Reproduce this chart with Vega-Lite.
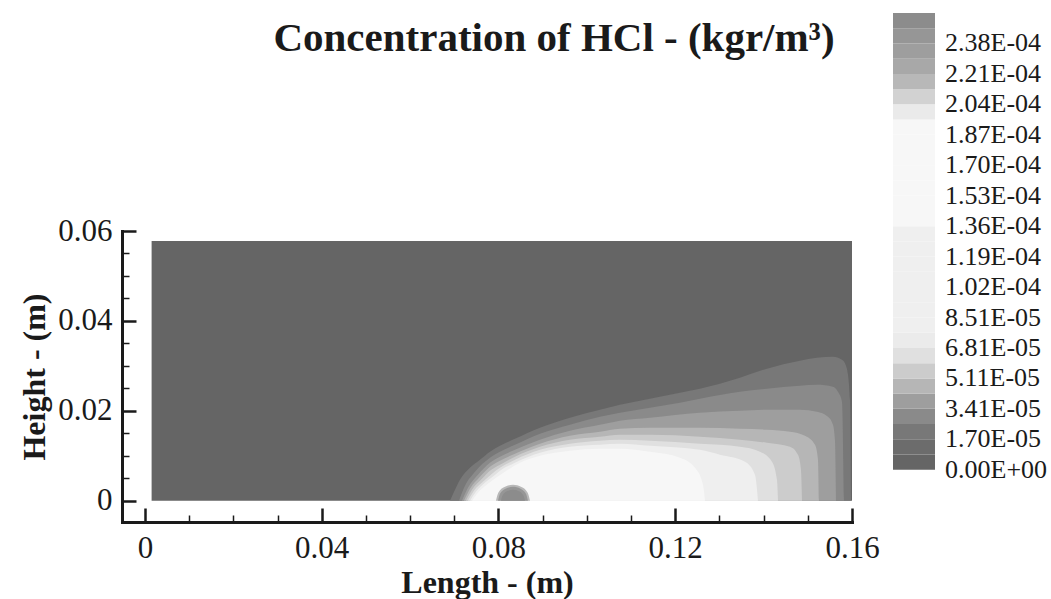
{
  "$schema": "https://vega.github.io/schema/vega-lite/v6.json",
  "width": 730,
  "height": 291,
  "autosize": "none",
  "padding": {"left": 122, "top": 231, "right": 199, "bottom": 77},
  "background": "white",
  "title": {
    "text": "Concentration of HCl - (kgr/m³)",
    "font": "Liberation Serif",
    "fontSize": 41,
    "fontWeight": "bold",
    "color": "#1a1a1a",
    "anchor": "middle",
    "dx": 67,
    "offset": -47
  },
  "data": {
    "values": [
      {"lev": 4.3e-6, "x": 0.0015, "y": 0.0578},
      {"lev": 4.3e-6, "x": 0.16, "y": 0.0578},

      {"lev": 2.13e-5, "x": 0.06902, "y": 0},
      {"lev": 2.13e-5, "x": 0.07015, "y": 0.00245},
      {"lev": 2.13e-5, "x": 0.07128, "y": 0.00468},
      {"lev": 2.13e-5, "x": 0.07355, "y": 0.00735},
      {"lev": 2.13e-5, "x": 0.07581, "y": 0.00913},
      {"lev": 2.13e-5, "x": 0.07807, "y": 0.01091},
      {"lev": 2.13e-5, "x": 0.08034, "y": 0.01224},
      {"lev": 2.13e-5, "x": 0.08373, "y": 0.0138},
      {"lev": 2.13e-5, "x": 0.08939, "y": 0.01625},
      {"lev": 2.13e-5, "x": 0.09618, "y": 0.01848},
      {"lev": 2.13e-5, "x": 0.10296, "y": 0.02026},
      {"lev": 2.13e-5, "x": 0.10749, "y": 0.02137},
      {"lev": 2.13e-5, "x": 0.11428, "y": 0.02271},
      {"lev": 2.13e-5, "x": 0.12107, "y": 0.02404},
      {"lev": 2.13e-5, "x": 0.12559, "y": 0.02493},
      {"lev": 2.13e-5, "x": 0.13465, "y": 0.02738},
      {"lev": 2.13e-5, "x": 0.14076, "y": 0.02939},
      {"lev": 2.13e-5, "x": 0.14822, "y": 0.03117},
      {"lev": 2.13e-5, "x": 0.15207, "y": 0.03183},
      {"lev": 2.13e-5, "x": 0.15569, "y": 0.03206},
      {"lev": 2.13e-5, "x": 0.15773, "y": 0.03139},
      {"lev": 2.13e-5, "x": 0.15864, "y": 0.03005},
      {"lev": 2.13e-5, "x": 0.15909, "y": 0.02805},
      {"lev": 2.13e-5, "x": 0.15954, "y": 0.02248},
      {"lev": 2.13e-5, "x": 0.15977, "y": 0},

      {"lev": 2.98e-5, "x": 0.07106, "y": 0},
      {"lev": 2.98e-5, "x": 0.07242, "y": 0.00334},
      {"lev": 2.98e-5, "x": 0.07468, "y": 0.00646},
      {"lev": 2.98e-5, "x": 0.07807, "y": 0.00957},
      {"lev": 2.98e-5, "x": 0.08034, "y": 0.01091},
      {"lev": 2.98e-5, "x": 0.08373, "y": 0.01247},
      {"lev": 2.98e-5, "x": 0.08939, "y": 0.01492},
      {"lev": 2.98e-5, "x": 0.09618, "y": 0.01692},
      {"lev": 2.98e-5, "x": 0.10296, "y": 0.0187},
      {"lev": 2.98e-5, "x": 0.10749, "y": 0.01959},
      {"lev": 2.98e-5, "x": 0.11428, "y": 0.0207},
      {"lev": 2.98e-5, "x": 0.12107, "y": 0.02182},
      {"lev": 2.98e-5, "x": 0.12559, "y": 0.02271},
      {"lev": 2.98e-5, "x": 0.13465, "y": 0.02427},
      {"lev": 2.98e-5, "x": 0.14076, "y": 0.02493},
      {"lev": 2.98e-5, "x": 0.14822, "y": 0.0256},
      {"lev": 2.98e-5, "x": 0.15207, "y": 0.02582},
      {"lev": 2.98e-5, "x": 0.15569, "y": 0.02538},
      {"lev": 2.98e-5, "x": 0.15682, "y": 0.02427},
      {"lev": 2.98e-5, "x": 0.15773, "y": 0.02204},
      {"lev": 2.98e-5, "x": 0.15818, "y": 0},

      {"lev": 3.83e-5, "x": 0.07174, "y": 0},
      {"lev": 3.83e-5, "x": 0.07309, "y": 0.00289},
      {"lev": 3.83e-5, "x": 0.07536, "y": 0.00579},
      {"lev": 3.83e-5, "x": 0.07807, "y": 0.00846},
      {"lev": 3.83e-5, "x": 0.08034, "y": 0.0098},
      {"lev": 3.83e-5, "x": 0.08373, "y": 0.01135},
      {"lev": 3.83e-5, "x": 0.08939, "y": 0.01358},
      {"lev": 3.83e-5, "x": 0.09618, "y": 0.01558},
      {"lev": 3.83e-5, "x": 0.10296, "y": 0.01692},
      {"lev": 3.83e-5, "x": 0.10749, "y": 0.01781},
      {"lev": 3.83e-5, "x": 0.11428, "y": 0.01848},
      {"lev": 3.83e-5, "x": 0.12559, "y": 0.01959},
      {"lev": 3.83e-5, "x": 0.13465, "y": 0.02004},
      {"lev": 3.83e-5, "x": 0.14076, "y": 0.02026},
      {"lev": 3.83e-5, "x": 0.14822, "y": 0.02026},
      {"lev": 3.83e-5, "x": 0.15207, "y": 0.01981},
      {"lev": 3.83e-5, "x": 0.15456, "y": 0.0187},
      {"lev": 3.83e-5, "x": 0.15569, "y": 0.01692},
      {"lev": 3.83e-5, "x": 0.15614, "y": 0.01358},
      {"lev": 3.83e-5, "x": 0.15637, "y": 0},

      {"lev": 4.68e-5, "x": 0.07219, "y": 0},
      {"lev": 4.68e-5, "x": 0.07355, "y": 0.00267},
      {"lev": 4.68e-5, "x": 0.07581, "y": 0.00534},
      {"lev": 4.68e-5, "x": 0.07807, "y": 0.00757},
      {"lev": 4.68e-5, "x": 0.08034, "y": 0.00891},
      {"lev": 4.68e-5, "x": 0.08373, "y": 0.01046},
      {"lev": 4.68e-5, "x": 0.08939, "y": 0.01269},
      {"lev": 4.68e-5, "x": 0.09618, "y": 0.01447},
      {"lev": 4.68e-5, "x": 0.10296, "y": 0.01536},
      {"lev": 4.68e-5, "x": 0.10749, "y": 0.01603},
      {"lev": 4.68e-5, "x": 0.11428, "y": 0.01625},
      {"lev": 4.68e-5, "x": 0.12559, "y": 0.01625},
      {"lev": 4.68e-5, "x": 0.13465, "y": 0.01603},
      {"lev": 4.68e-5, "x": 0.14076, "y": 0.01581},
      {"lev": 4.68e-5, "x": 0.14596, "y": 0.01536},
      {"lev": 4.68e-5, "x": 0.14936, "y": 0.01447},
      {"lev": 4.68e-5, "x": 0.15162, "y": 0.01247},
      {"lev": 4.68e-5, "x": 0.1523, "y": 0.00913},
      {"lev": 4.68e-5, "x": 0.15252, "y": 0},

      {"lev": 5.53e-5, "x": 0.07264, "y": 0},
      {"lev": 5.53e-5, "x": 0.074, "y": 0.00245},
      {"lev": 5.53e-5, "x": 0.07626, "y": 0.0049},
      {"lev": 5.53e-5, "x": 0.07807, "y": 0.00668},
      {"lev": 5.53e-5, "x": 0.08034, "y": 0.00801},
      {"lev": 5.53e-5, "x": 0.08373, "y": 0.0098},
      {"lev": 5.53e-5, "x": 0.08939, "y": 0.01202},
      {"lev": 5.53e-5, "x": 0.09618, "y": 0.01358},
      {"lev": 5.53e-5, "x": 0.10296, "y": 0.01425},
      {"lev": 5.53e-5, "x": 0.10749, "y": 0.01469},
      {"lev": 5.53e-5, "x": 0.11428, "y": 0.01469},
      {"lev": 5.53e-5, "x": 0.12559, "y": 0.01425},
      {"lev": 5.53e-5, "x": 0.13465, "y": 0.01358},
      {"lev": 5.53e-5, "x": 0.14076, "y": 0.01291},
      {"lev": 5.53e-5, "x": 0.14596, "y": 0.01202},
      {"lev": 5.53e-5, "x": 0.14777, "y": 0.01024},
      {"lev": 5.53e-5, "x": 0.14845, "y": 0.0069},
      {"lev": 5.53e-5, "x": 0.14868, "y": 0},

      {"lev": 6.38e-5, "x": 0.07309, "y": 0},
      {"lev": 6.38e-5, "x": 0.07445, "y": 0.00223},
      {"lev": 6.38e-5, "x": 0.07672, "y": 0.00445},
      {"lev": 6.38e-5, "x": 0.07853, "y": 0.00601},
      {"lev": 6.38e-5, "x": 0.08034, "y": 0.00735},
      {"lev": 6.38e-5, "x": 0.08373, "y": 0.00913},
      {"lev": 6.38e-5, "x": 0.08939, "y": 0.01135},
      {"lev": 6.38e-5, "x": 0.09618, "y": 0.01269},
      {"lev": 6.38e-5, "x": 0.10296, "y": 0.01336},
      {"lev": 6.38e-5, "x": 0.10749, "y": 0.01358},
      {"lev": 6.38e-5, "x": 0.11428, "y": 0.01336},
      {"lev": 6.38e-5, "x": 0.12559, "y": 0.01269},
      {"lev": 6.38e-5, "x": 0.13465, "y": 0.01202},
      {"lev": 6.38e-5, "x": 0.13917, "y": 0.01091},
      {"lev": 6.38e-5, "x": 0.14189, "y": 0.00868},
      {"lev": 6.38e-5, "x": 0.14302, "y": 0.00468},
      {"lev": 6.38e-5, "x": 0.14325, "y": 0},

      {"lev": 8.09e-5, "x": 0.07355, "y": 0},
      {"lev": 8.09e-5, "x": 0.0749, "y": 0.002},
      {"lev": 8.09e-5, "x": 0.07717, "y": 0.00423},
      {"lev": 8.09e-5, "x": 0.07898, "y": 0.00557},
      {"lev": 8.09e-5, "x": 0.08034, "y": 0.00668},
      {"lev": 8.09e-5, "x": 0.08373, "y": 0.00846},
      {"lev": 8.09e-5, "x": 0.08939, "y": 0.01069},
      {"lev": 8.09e-5, "x": 0.09618, "y": 0.01202},
      {"lev": 8.09e-5, "x": 0.10296, "y": 0.01247},
      {"lev": 8.09e-5, "x": 0.10749, "y": 0.01269},
      {"lev": 8.09e-5, "x": 0.11428, "y": 0.01224},
      {"lev": 8.09e-5, "x": 0.12559, "y": 0.01135},
      {"lev": 8.09e-5, "x": 0.13012, "y": 0.01024},
      {"lev": 8.09e-5, "x": 0.13578, "y": 0.00868},
      {"lev": 8.09e-5, "x": 0.13804, "y": 0.00579},
      {"lev": 8.09e-5, "x": 0.13872, "y": 0},

      {"lev": 1.405e-4, "x": 0.074, "y": 0},
      {"lev": 1.405e-4, "x": 0.07536, "y": 0.00178},
      {"lev": 1.405e-4, "x": 0.07762, "y": 0.00378},
      {"lev": 1.405e-4, "x": 0.07943, "y": 0.00512},
      {"lev": 1.405e-4, "x": 0.08147, "y": 0.00646},
      {"lev": 1.405e-4, "x": 0.08486, "y": 0.00846},
      {"lev": 1.405e-4, "x": 0.08939, "y": 0.01002},
      {"lev": 1.405e-4, "x": 0.09618, "y": 0.01113},
      {"lev": 1.405e-4, "x": 0.10296, "y": 0.01158},
      {"lev": 1.405e-4, "x": 0.10749, "y": 0.01158},
      {"lev": 1.405e-4, "x": 0.11428, "y": 0.01091},
      {"lev": 1.405e-4, "x": 0.12107, "y": 0.00957},
      {"lev": 1.405e-4, "x": 0.12446, "y": 0.00735},
      {"lev": 1.405e-4, "x": 0.12627, "y": 0.00356},
      {"lev": 1.405e-4, "x": 0.12673, "y": 0},

      {"lev": 2.171e-4, "x": 0.07943, "y": 0},
      {"lev": 2.171e-4, "x": 0.07995, "y": 0.00178},
      {"lev": 2.171e-4, "x": 0.08136, "y": 0.00309},
      {"lev": 2.171e-4, "x": 0.08328, "y": 0.00356},
      {"lev": 2.171e-4, "x": 0.0852, "y": 0.00309},
      {"lev": 2.171e-4, "x": 0.08661, "y": 0.00178},
      {"lev": 2.171e-4, "x": 0.08713, "y": 0},

      {"lev": 2.426e-4, "x": 0.07989, "y": 0},
      {"lev": 2.426e-4, "x": 0.08034, "y": 0.00156},
      {"lev": 2.426e-4, "x": 0.08158, "y": 0.0027},
      {"lev": 2.426e-4, "x": 0.08328, "y": 0.00312},
      {"lev": 2.426e-4, "x": 0.08498, "y": 0.0027},
      {"lev": 2.426e-4, "x": 0.08622, "y": 0.00156},
      {"lev": 2.426e-4, "x": 0.08667, "y": 0},

      {"lev": 2.511e-4, "x": 0.08056, "y": 0},
      {"lev": 2.511e-4, "x": 0.08093, "y": 0.00122},
      {"lev": 2.511e-4, "x": 0.08192, "y": 0.00212},
      {"lev": 2.511e-4, "x": 0.08328, "y": 0.00245},
      {"lev": 2.511e-4, "x": 0.08464, "y": 0.00212},
      {"lev": 2.511e-4, "x": 0.08563, "y": 0.00122},
      {"lev": 2.511e-4, "x": 0.086, "y": 0}
    ]
  },
  "layer": [
    {
      "mark": {"type": "area", "interpolate": "monotone"},
      "encoding": {
        "x": {
          "field": "x", "type": "quantitative",
          "scale": {"domain": [-0.0052, 0.16], "nice": false, "zero": false},
          "axis": {
            "orient": "bottom",
            "values": [0, 0.04, 0.08, 0.12, 0.16],
            "format": "~g",
            "title": "Length - (m)",
            "grid": false,
            "domainColor": "#1a1a1a", "domainWidth": 3, "domainCap": "square",
            "tickColor": "#1a1a1a", "tickWidth": 2.5, "tickSize": -14,
            "labelFontSize": 31, "labelPadding": 25, "labelColor": "#1a1a1a",
            "labelFlush": false, "labelOverlap": false,
            "titleFontSize": 32, "titleFontWeight": "bold", "titleColor": "#1a1a1a",
            "titlePadding": 4
          }
        },
        "y": {
          "field": "y", "type": "quantitative",
          "scale": {"domain": [-0.0047, 0.06], "nice": false, "zero": false},
          "axis": {
            "orient": "left",
            "values": [0, 0.02, 0.04, 0.06],
            "format": "~g",
            "title": "Height - (m)",
            "grid": false,
            "domainColor": "#1a1a1a", "domainWidth": 3, "domainCap": "square",
            "tickColor": "#1a1a1a", "tickWidth": 2.5, "tickSize": -14,
            "labelFontSize": 31, "labelPadding": 24, "labelColor": "#1a1a1a",
            "labelFlush": false, "labelOverlap": false,
            "titleFontSize": 32, "titleFontWeight": "bold", "titleColor": "#1a1a1a",
            "titlePadding": 6
          }
        },
        "y2": {"datum": 0},
        "color": {
          "field": "lev", "type": "quantitative",
          "scale": {
            "type": "threshold",
            "domain": [0, 8.513e-6, 1.7026e-5, 2.5539e-5, 3.4052e-5, 4.2565e-5, 5.1078e-5, 5.9591e-5, 6.8104e-5, 7.6617e-5, 8.513e-5, 9.3643e-5, 1.02156e-4, 1.10669e-4, 1.19182e-4, 1.27695e-4, 1.36208e-4, 1.44721e-4, 1.53234e-4, 1.61747e-4, 1.7026e-4, 1.78773e-4, 1.87286e-4, 1.95799e-4, 2.04312e-4, 2.12825e-4, 2.21338e-4, 2.29851e-4, 2.38364e-4, 2.46877e-4],
            "range": ["#ffffff", "#656565", "#6c6c6c", "#787878", "#8a8a8a", "#9e9e9e", "#b6b6b6", "#cccccc", "#e0e0e0", "#ebebeb", "#efefef", "#efefef", "#efefef", "#efefef", "#efefef", "#efefef", "#efefef", "#f7f7f7", "#f7f7f7", "#f7f7f7", "#f7f7f7", "#f7f7f7", "#f7f7f7", "#f7f7f7", "#eaeaea", "#d2d2d2", "#b8b8b8", "#a8a8a8", "#9e9e9e", "#969696", "#8c8c8c"]
          },
          "legend": {
            "type": "gradient",
            "orient": "none",
            "legendX": 771,
            "legendY": -218,
            "direction": "vertical",
            "title": null,
            "padding": 0,
            "gradientLength": 472,
            "gradientThickness": 42,
            "gradientStrokeWidth": 0,
            "labelFontSize": 26,
            "labelColor": "#1a1a1a",
            "labelOffset": 10,
            "labelOverlap": false,
            "labelExpr": "round(datum.value / 8.513e-6) % 2 === 0 ? replace(replace(format(datum.value, '.2e'), 'e-', 'E-0'), 'e+', 'E+0') : ''"
          }
        }
      }
    },
    {
      "mark": {"type": "point", "opacity": 0},
      "encoding": {
        "x": {
          "field": "x", "type": "quantitative",
          "scale": {"domain": [-0.0052, 0.16], "nice": false, "zero": false},
          "axis": {
            "orient": "bottom",
            "values": [0.01, 0.02, 0.03, 0.05, 0.06, 0.07, 0.09, 0.1, 0.11, 0.13, 0.14, 0.15],
            "labels": false, "domain": false, "grid": false, "title": null,
            "tickColor": "#1a1a1a", "tickWidth": 1.5, "tickSize": -7
          }
        },
        "y": {
          "field": "y", "type": "quantitative",
          "scale": {"domain": [-0.0047, 0.06], "nice": false, "zero": false},
          "axis": {
            "orient": "left",
            "values": [0.005, 0.01, 0.015, 0.025, 0.03, 0.035, 0.045, 0.05, 0.055],
            "labels": false, "domain": false, "grid": false, "title": null,
            "tickColor": "#1a1a1a", "tickWidth": 1.5, "tickSize": -7
          }
        }
      }
    }
  ],
  "resolve": {"axis": {"x": "independent", "y": "independent"}},
  "config": {
    "font": "Liberation Serif",
    "view": {"stroke": null}
  }
}
